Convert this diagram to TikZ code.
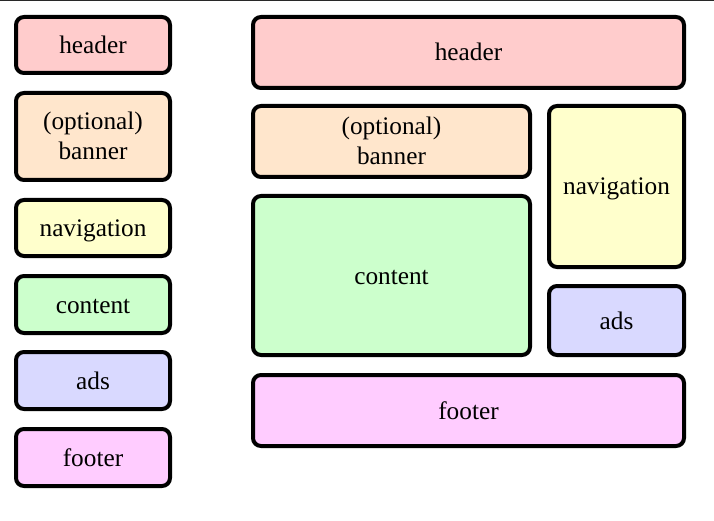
\documentclass[tikz,border=0pt]{standalone}
\usepackage{fontspec}
\setmainfont{Liberation Serif}
\begin{document}
\begin{tikzpicture}[x=1pt,y=-1pt,
  blk/.style={draw=black,line width=4pt,rounded corners=8pt},
  lbl/.style={font=\fontsize{25.3}{30}\selectfont,align=center,inner sep=0pt,anchor=base},
  cH/.style={fill={rgb,255:red,255;green,204;blue,204}},
  cB/.style={fill={rgb,255:red,255;green,230;blue,204}},
  cN/.style={fill={rgb,255:red,255;green,255;blue,204}},
  cC/.style={fill={rgb,255:red,204;green,255;blue,204}},
  cA/.style={fill={rgb,255:red,217;green,217;blue,255}},
  cF/.style={fill={rgb,255:red,255;green,204;blue,255}}]
\useasboundingbox (0,0) rectangle (714,521);
\draw[line width=1.5pt,color={rgb,255:red,40;green,40;blue,40}] (0,0.5) -- (714,0.5);
% left column
\draw[blk,cH] (16,17) rectangle (170,73);
\node[lbl] (lh) at (93,53.5) {header};
\draw[blk,cB] (16,93) rectangle (170,180);
\node[lbl] (lb) at (93,160) {(optional)\\banner};
\draw[blk,cN] (16,200) rectangle (170,256);
\node[lbl] (ln) at (93,236.5) {navigation};
\draw[blk,cC] (16,276) rectangle (170,333);
\node[lbl] (lc) at (93,313) {content};
\draw[blk,cA] (16,352) rectangle (170,409);
\node[lbl] (la) at (93,389) {ads};
\draw[blk,cF] (16,429) rectangle (170,486);
\node[lbl] (lf) at (93,466) {footer};
% right layout
\draw[blk,cH] (253,17) rectangle (684,88);
\node[lbl] (rh) at (468.5,61) {header};
\draw[blk,cB] (253,106) rectangle (530,177);
\node[lbl] (rb) at (391.5,165) {(optional)\\banner};
\draw[blk,cN] (549,106) rectangle (684,267);
\node[lbl] (rn) at (616.5,195) {navigation};
\draw[blk,cC] (253,196) rectangle (530,355);
\node[lbl] (rc) at (391.5,284) {content};
\draw[blk,cA] (549,286) rectangle (684,355);
\node[lbl] (ra) at (616.5,329) {ads};
\draw[blk,cF] (253,375) rectangle (684,446);
\node[lbl] (rf) at (468.5,419) {footer};
\end{tikzpicture}
\end{document}
